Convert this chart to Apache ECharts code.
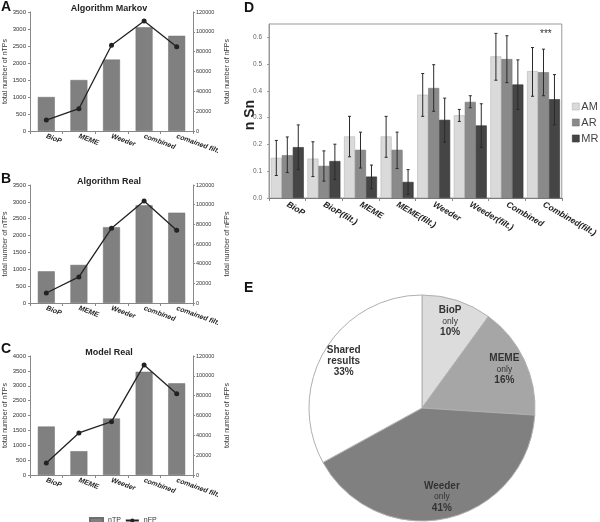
<!DOCTYPE html>
<html><head><meta charset="utf-8">
<script src="https://cdn.jsdelivr.net/npm/echarts@6/dist/echarts.min.js"></script>
<style>html,body{margin:0;padding:0;background:#fff}#c{width:600px;height:522px}</style>
</head><body><div id="c"></div>
<script>
// ---- Panels A-C data ----
const abcCategories = ['BioP', 'MEME', 'Weeder', 'combined', 'comained filt.'];
const markovTP = [1000, 1500, 2100, 3050, 2800];
const markovFP = [11000, 22500, 86500, 111000, 85000];
const realTP = [940, 1130, 2250, 2900, 2680];
const realFP = [10200, 26500, 76000, 103700, 74000];
const modelTP = [1630, 800, 1900, 3470, 3080];
const modelFP = [12100, 42400, 53800, 111000, 82000];
const panelTitles = ['Algorithm Markov', 'Algorithm Real', 'Model Real'];
const leftMax = [3500, 3500, 4000];

// ---- Panel D data ----
const dCategories = ['BioP', 'BioP(filt.)', 'MEME', 'MEME(filt.)', 'Weeder', 'Weeder(filt.)', 'Combined', 'Combined(filt.)'];
const amValues = [0.15, 0.147, 0.23, 0.23, 0.386, 0.309, 0.529, 0.474];
const amLow = [0.084, 0.08, 0.154, 0.152, 0.305, 0.286, 0.44, 0.38];
const amHigh = [0.215, 0.21, 0.305, 0.305, 0.465, 0.331, 0.615, 0.562];
const arValues = [0.16, 0.12, 0.18, 0.18, 0.411, 0.359, 0.519, 0.47];
const arLow = [0.095, 0.063, 0.112, 0.11, 0.324, 0.337, 0.431, 0.382];
const arHigh = [0.228, 0.176, 0.246, 0.246, 0.498, 0.382, 0.606, 0.556];
const mrValues = [0.19, 0.138, 0.08, 0.06, 0.292, 0.271, 0.424, 0.369];
const mrLow = [0.106, 0.069, 0.035, 0.014, 0.208, 0.189, 0.331, 0.273];
const mrHigh = [0.273, 0.201, 0.123, 0.106, 0.373, 0.352, 0.516, 0.461];
const dSeriesNames = ['AM', 'AR', 'MR'];
const dTicks = [0, 0.1, 0.2, 0.3, 0.4, 0.5, 0.6];

// ---- Panel E data ----
const pieNames = ['BioP', 'MEME', 'Weeder', 'Shared results'];
const pieValues = [10, 16, 41, 33];

const FONT = 'Liberation Sans, Arial, sans-serif';
const tpSets = [markovTP, realTP, modelTP];
const fpSets = [markovFP, realFP, modelFP];
const gridBoxes = [
  {left: 30, top: 12, right: 407, bottom: 391},
  {left: 30, top: 185, right: 407, bottom: 219},
  {left: 30, top: 356, right: 407, bottom: 47}
];

const grids = [], xAxes = [], yAxes = [], series = [], titles = [];
for (let i = 0; i < 3; i++) {
  grids.push(gridBoxes[i]);
  titles.push({text: panelTitles[i], left: 104, top: gridBoxes[i].top - 13, textAlign: 'center',
    textStyle: {fontFamily: FONT, fontSize: 9, fontWeight: 'bold', color: '#222'}});
  xAxes.push({type: 'category', gridIndex: i, data: abcCategories, boundaryGap: true,
    axisLine: {lineStyle: {color: '#888'}}, axisTick: {show: true, length: 3, lineStyle: {color: '#888'}},
    axisLabel: {rotate: -20, fontSize: 7, fontWeight: 'bold', fontStyle: 'italic', fontFamily: FONT, color: '#222', margin: 5, interval: 0}});
  yAxes.push({type: 'value', gridIndex: i, position: 'left', min: 0, max: leftMax[i], interval: 500,
    name: 'total number of nTPs', nameLocation: 'middle', nameGap: 20,
    nameTextStyle: {fontFamily: FONT, fontSize: 7, color: '#333'},
    splitLine: {show: false}, axisLine: {show: true, lineStyle: {color: '#888'}},
    axisTick: {show: true, length: 2, lineStyle: {color: '#888'}},
    axisLabel: {fontSize: 6, fontFamily: FONT, color: '#333', margin: 4, formatter: v => String(v)}});
  yAxes.push({type: 'value', gridIndex: i, position: 'right', min: 0, max: 120000, interval: 20000,
    name: 'total number of nFPs', nameLocation: 'middle', nameGap: 31, nameRotate: 90,
    nameTextStyle: {fontFamily: FONT, fontSize: 7, color: '#333'},
    splitLine: {show: false}, axisLine: {show: true, lineStyle: {color: '#888'}},
    axisTick: {show: true, length: 2, lineStyle: {color: '#888'}},
    axisLabel: {fontSize: 5.5, fontFamily: FONT, color: '#333', margin: 3, formatter: v => String(v)}});
  series.push({name: 'nTP', type: 'bar', xAxisIndex: i, yAxisIndex: 2 * i, data: tpSets[i],
    barWidth: '52%', itemStyle: {color: '#808080', borderColor: '#6e6e6e', borderWidth: 0.5}});
  series.push({name: 'nFP', type: 'line', xAxisIndex: i, yAxisIndex: 2 * i + 1, data: fpSets[i],
    symbol: 'circle', symbolSize: 5, lineStyle: {color: '#222', width: 1.3}, itemStyle: {color: '#222'}, z: 5});
}

// Panel D
grids.push({left: 269, top: 24, right: 34, bottom: 324, show: true, borderColor: '#999', borderWidth: 1});
xAxes.push({type: 'category', gridIndex: 3, data: dCategories, boundaryGap: true,
  axisLine: {lineStyle: {color: '#777'}}, axisTick: {show: true, length: 3, lineStyle: {color: '#888'}},
  axisLabel: {rotate: -30, fontSize: 8.5, fontWeight: 'bold', fontStyle: 'italic', fontFamily: FONT, color: '#222', margin: 6, interval: 0}});
yAxes.push({type: 'value', gridIndex: 3, min: 0, max: 0.65, interval: 0.1,
  splitLine: {show: false}, axisLine: {show: true, lineStyle: {color: '#999'}},
  axisTick: {show: true, length: 2, lineStyle: {color: '#999'}},
  axisLabel: {fontSize: 6.5, fontFamily: FONT, color: '#666', margin: 7, showMaxLabel: false,
    formatter: v => dTicks.some(t => Math.abs(t - v) < 1e-9) ? v.toFixed(1) : ''}});

const dVals = [amValues, arValues, mrValues];
const dLow = [amLow, arLow, mrLow];
const dHigh = [amHigh, arHigh, mrHigh];
const dColors = ['#dadada', '#8a8a8a', '#454545'];
const dBorders = ['#b5b5b5', '#777', '#333'];
const CAT_GAP = 0.1;
for (let k = 0; k < 3; k++) {
  series.push({name: dSeriesNames[k], type: 'bar', xAxisIndex: 3, yAxisIndex: 6, data: dVals[k],
    barGap: '0%', barCategoryGap: '10%', itemStyle: {color: dColors[k], borderColor: dBorders[k], borderWidth: 0.6}});
}
for (let k = 0; k < 3; k++) {
  series.push({type: 'custom', xAxisIndex: 3, yAxisIndex: 6, z: 10,
    data: dCategories.map((c, j) => [j, dLow[k][j], dHigh[k][j]]),
    renderItem: (params, api) => {
      const x = api.value(0);
      const pLo = api.coord([x, api.value(1)]);
      const pHi = api.coord([x, api.value(2)]);
      const cw = api.size([1, 0])[0];
      const bw = cw * (1 - CAT_GAP) / 3;
      const cx = pLo[0] + (k - 1) * bw;
      const st = {stroke: '#2a2a2a', lineWidth: 1};
      return {type: 'group', children: [
        {type: 'line', shape: {x1: cx, y1: pHi[1], x2: cx, y2: pLo[1]}, style: st},
        {type: 'line', shape: {x1: cx - 1.5, y1: pHi[1], x2: cx + 1.5, y2: pHi[1]}, style: st},
        {type: 'line', shape: {x1: cx - 1.5, y1: pLo[1], x2: cx + 1.5, y2: pLo[1]}, style: st}
      ]};
    }});
}

// Panel E pie
const pieColors = ['#dcdcdc', '#a6a6a6', '#808080', '#ffffff'];
series.push({type: 'pie', center: [422, 408], radius: [0, 113], startAngle: 90, clockwise: true,
  data: pieNames.map((n, i) => ({name: n, value: pieValues[i], itemStyle: {color: pieColors[i]}})),
  itemStyle: {borderColor: '#b0b0b0', borderWidth: 1}, label: {show: false}, labelLine: {show: false}, silent: true});
series.push({type: 'pie', center: [422, 408], radius: [63, 113], startAngle: 90, clockwise: true, silent: true,
  data: pieNames.map((n, i) => ({name: n, value: pieValues[i]})),
  itemStyle: {color: 'rgba(0,0,0,0)', borderWidth: 0},
  label: {show: true, position: 'inside', fontFamily: FONT,
    formatter: p => p.name === 'Shared results'
      ? '{b|Shared}\n{b|results}\n{b|' + p.value + '%}'
      : '{b|' + p.name + '}\n{n|only}\n{b|' + p.value + '%}',
    rich: {
      b: {fontSize: 10, fontWeight: 'bold', color: '#333', lineHeight: 11, fontFamily: FONT},
      n: {fontSize: 8.5, color: '#333', lineHeight: 11, fontFamily: FONT}
    }},
  labelLine: {show: false}});

const letterStyle = {fontFamily: FONT, fontSize: 14, fontWeight: 'bold', fill: '#111'};
const option = {
  animation: false,
  backgroundColor: '#fff',
  title: titles,
  grid: grids, xAxis: xAxes, yAxis: yAxes, series: series,
  legend: [
    {data: [{name: 'nTP', icon: 'rect'}, 'nFP'], left: 84, top: 512, itemWidth: 13, itemHeight: 5, itemGap: 4,
      textStyle: {fontFamily: FONT, fontSize: 7, color: '#333'}},
    {data: dSeriesNames, orient: 'vertical', left: 572, top: 101, padding: 0, itemWidth: 7, itemHeight: 7, itemGap: 5,
      icon: 'rect', itemStyle: {borderWidth: 0.6},
      textStyle: {fontFamily: FONT, fontSize: 11, color: '#444', padding: [0, 0, 0, -3]}}
  ],
  graphic: [
    {type: 'text', left: 1, top: 0, style: Object.assign({text: 'A'}, letterStyle)},
    {type: 'text', left: 1, top: 172, style: Object.assign({text: 'B'}, letterStyle)},
    {type: 'text', left: 1, top: 342, style: Object.assign({text: 'C'}, letterStyle)},
    {type: 'text', left: 244, top: 1, style: Object.assign({text: 'D'}, letterStyle)},
    {type: 'text', left: 244, top: 281, style: Object.assign({text: 'E'}, letterStyle)},
    {type: 'text', left: 540, top: 29, style: {text: '***', fontFamily: FONT, fontSize: 10, fill: '#333'}},
    {type: 'text', x: 250, y: 115, rotation: Math.PI / 2,
      style: {text: 'n Sn', fontFamily: FONT, fontSize: 14, fontWeight: 'bold', fill: '#222', align: 'center', verticalAlign: 'middle'}}
  ]
};
const chart = echarts.init(document.getElementById('c'), null, {renderer: 'canvas'});
chart.setOption(option);
</script></body></html>
